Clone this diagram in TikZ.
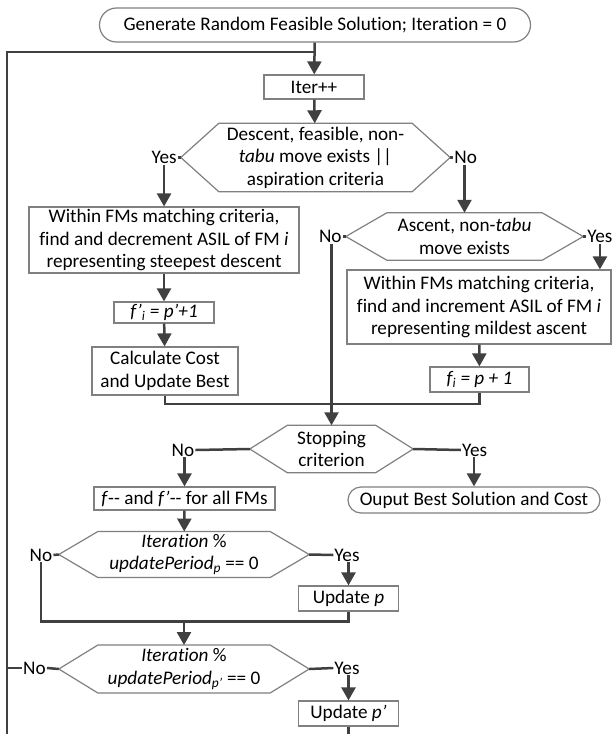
\documentclass[tikz,border=0pt]{standalone}
\usepackage{fontspec}
\setmainfont{Carlito}[Ligatures={NoCommon}]
\usetikzlibrary{arrows.meta}
\definecolor{linegray}{HTML}{404040}
\definecolor{boxgray}{HTML}{808080}
\begin{document}
\begin{tikzpicture}[
    x=1pt, y=-1pt,
    font=\fontsize{19.2}{22.5}\selectfont,
    terminal/.style={rectangle, rounded corners=#1, draw=boxgray, line width=1.2pt, inner sep=0pt, align=center},
    process/.style={rectangle, draw=boxgray, line width=1.2pt, inner sep=0pt, align=center},
    decision/.style={rectangle, inner sep=0pt, align=center},
    hexagon/.style={draw=boxgray, line width=1.2pt},
    answer/.style={inner sep=1pt},
    line/.style={draw=linegray, line width=2.5pt},
    arrow/.style={line, -{Triangle[width=14pt,length=13pt]}},
    ]
    \useasboundingbox (0,0) rectangle (613,734);

    % Start
    \node[terminal=17pt, minimum width=431pt, minimum height=34pt] (start) at (315,25) {Generate Random Feasible Solution; Iteration = 0};
    \node[process, minimum width=100pt, minimum height=24pt] (iter) at (314,87) {Iter++};

    % First decision
    \node[decision, minimum width=269pt, minimum height=68pt] (dec1) at (315.5,157.5) {Descent, feasible, non-\\\textit{tabu} move exists ||\\aspiration criteria};
    \node[answer, anchor=east] (yes1) at ([xshift=-3pt]dec1.west) {Yes};
    \node[answer, anchor=west] (no1) at ([xshift=3pt]dec1.east) {No};

    % Descent branch
    \node[process, minimum width=270pt, minimum height=66pt] (down) at (164,240) {Within FMs matching criteria,\\find and decrement ASIL of FM \textit{i}\\representing steepest descent};
    \node[process, minimum width=100pt, minimum height=21pt] (fpi) at (164,312.5) {\textit{f’\textsubscript{i} = p’+1}};
    \node[process, minimum width=146pt, minimum height=48pt] (calc) at (165,371) {Calculate Cost\\and Update Best};

    % Ascent branch
    \node[decision, minimum width=237pt, minimum height=47pt] (dec2) at (464.5,236.5) {Ascent, non-\textit{tabu}\\move exists};
    \node[answer, anchor=east] (no2) at ([xshift=-3pt]dec2.west) {No};
    \node[answer, anchor=west] (yes2) at ([xshift=3pt]dec2.east) {Yes};
    \node[process, minimum width=264pt, minimum height=74pt] (up) at (479,307) {Within FMs matching criteria,\\find and increment ASIL of FM \textit{i}\\representing mildest ascent};
    \node[process, minimum width=99pt, minimum height=25pt] (fi) at (479.5,379.5) {\textit{f\textsubscript{i} = p + 1}};

    % Stopping
    \coordinate (m1) at (332,404);
    \node[decision, minimum width=163pt, minimum height=47pt] (stop) at (331.5,449) {Stopping\\criterion};
    \node[answer] (nos) at (183,450) {No};
    \node[answer] (yess) at (474.6,450) {Yes};
    \node[terminal=13pt, minimum width=252pt, minimum height=26pt] (output) at (474,500) {Ouput Best Solution and Cost};
    \node[process, minimum width=181pt, minimum height=23pt] (fdec) at (184.5,498.5) {\textit{f}{-}{-} and \textit{f’}{-}{-} for all FMs};

    % Update periods
    \node[decision, minimum width=250pt, minimum height=45.5pt] (dec3) at (184,554.5) {\textit{Iteration} \%\\\textit{updatePeriod\textsubscript{p}} == 0};
    \node[answer] (no3) at (41,555) {No};
    \node[answer] (yes3) at (347,555) {Yes};
    \node[process, minimum width=99.5pt, minimum height=25pt] (upd1) at (348.5,598.5) {Update \textit{p}};
    \coordinate (m3) at (186,621.7);

    \node[decision, minimum width=250pt, minimum height=47.5pt] (dec4) at (184,669) {\textit{Iteration} \%\\\textit{updatePeriod\textsubscript{p’}} == 0};
    \node[answer] (no4) at (34.5,668) {No};
    \node[answer] (yes4) at (347,668) {Yes};
    \node[process, minimum width=99.5pt, minimum height=25pt] (upd2) at (348.5,713.5) {Update \textit{p’}};

    % Hexagon outlines of the decisions
    \foreach \n/\d in {dec1/38, dec2/41, stop/37.5, dec3/39, dec4/39}
        \draw[hexagon] (\n.west) -- ([xshift=\d]\n.north west) -- ([xshift=-\d]\n.north east) -- (\n.east) -- ([xshift=-\d]\n.south east) -- ([xshift=\d]\n.south west) -- cycle;

    % Loop back (cut at the bottom)
    \coordinate (join) at (315,52);
    \coordinate (cut1) at (7,734);
    \coordinate (cut2) at (348.5,734);

    % Connectors
    \draw[arrow] (start) -- (iter);
    \draw[line] (cut1) |- (join);
    \draw[arrow] (iter) -- (dec1);
    \draw[line] (dec1.west) -- (yes1.east);
    \draw[line] (dec1.east) -- (no1.west);
    \draw[arrow] (yes1.south) -- (yes1.south |- down.north);
    \draw[arrow] (down) -- (fpi);
    \draw[arrow] (fpi) -- (calc);
    \draw[arrow] (dec2.north |- no1.south) -- (dec2.north);
    \draw[line] (dec2.west) -- (no2.east);
    \draw[line] (dec2.east) -- (yes2.west);
    \draw[arrow] (yes2.south) -- (yes2.south |- up.north);
    \draw[arrow] (up) -- (fi);
    \draw[line] (calc.south) |- (m1) -| (fi.south);
    \draw[arrow] (stop.north |- no2.south) -- (stop.north);
    \draw[line] (stop.west) -- (nos.east);
    \draw[line] (stop.east) -- (yess.west);
    \draw[arrow] (fdec.north |- nos.south) -- (fdec.north);
    \draw[arrow] (output.north |- yess.south) -- (output.north);
    \draw[arrow] (fdec) -- (dec3);
    \draw[line] (dec3.west) -- (no3.east);
    \draw[line] (dec3.east) -- (yes3.west);
    \draw[arrow] (upd1.north |- yes3.south) -- (upd1.north);
    \draw[line] (no3.south) |- (m3) -| (upd1.south);
    \draw[arrow] (dec4.north |- m3) -- (dec4.north);
    \draw[line] (dec4.west) -- (no4.east);
    \draw[line] (no4.west) -- (cut1 |- no4.west);
    \draw[line] (dec4.east) -- (yes4.west);
    \draw[arrow] (upd2.north |- yes4.south) -- (upd2.north);
    \draw[line] (upd2.south) -- (cut2);

\end{tikzpicture}
\end{document}
